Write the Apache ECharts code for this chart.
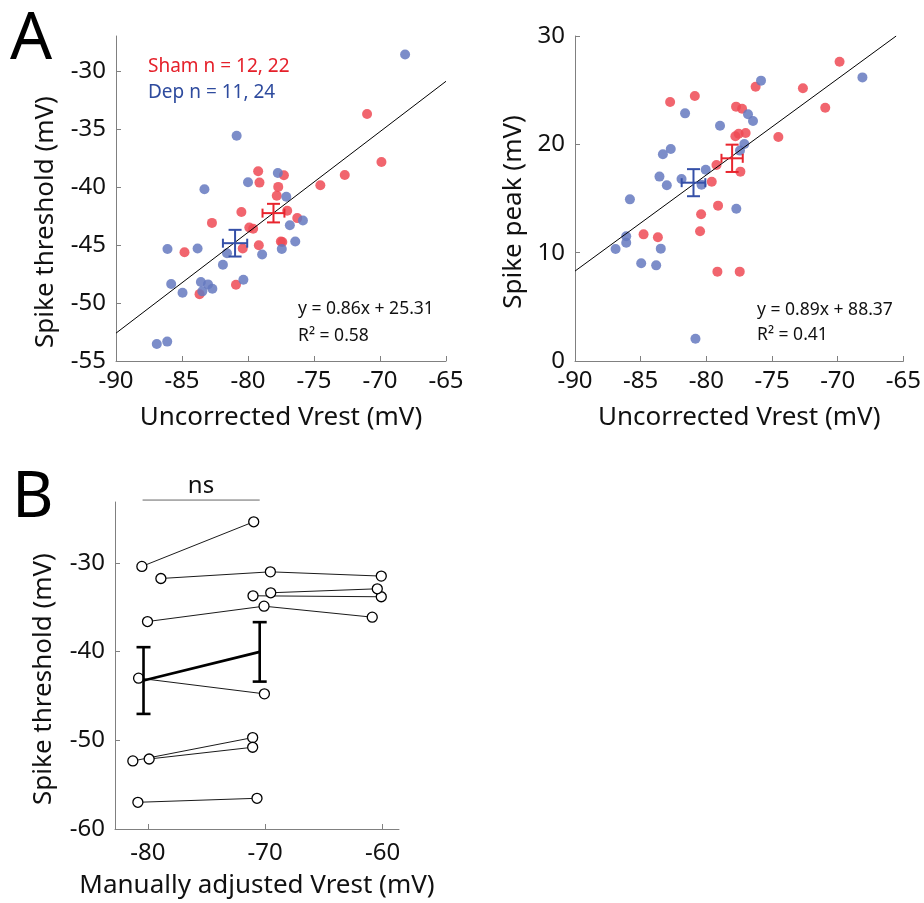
<!DOCTYPE html>
<html>
<head>
<meta charset="utf-8">
<title>Spike threshold and Vrest</title>
<script src="https://cdn.jsdelivr.net/npm/echarts@6/dist/echarts.min.js"></script>
<style>body{margin:0;background:#fff;}</style>
</head>
<body>
<div id="main" style="width:924px;height:903px;"></div>
<script>
// ---- panel A, left: spike threshold vs uncorrected Vrest ----
var shamThr = [
    [-70.98, -33.72], [-69.89, -37.85], [-72.67, -38.97], [-74.52, -39.86],
    [-77.28, -39.0], [-79.23, -38.65], [-79.13, -39.63], [-77.71, -40.0],
    [-77.82, -40.76], [-77.03, -42.06], [-76.27, -42.69], [-82.73, -43.1],
    [-80.5, -42.17], [-79.61, -43.6], [-79.18, -45.03], [-80.4, -45.3],
    [-77.51, -44.7], [-77.4, -44.75], [-84.81, -45.63], [-80.91, -48.43],
    [-83.67, -49.24], [-79.9, -43.5]
];
var depThr = [
    [-68.1, -28.6], [-80.86, -35.6], [-83.3, -40.2], [-80.0, -39.6],
    [-77.74, -38.8], [-77.1, -40.85], [-76.83, -43.3], [-75.84, -42.9],
    [-76.42, -44.7], [-77.44, -45.35], [-78.93, -45.83], [-81.59, -45.72],
    [-81.9, -46.7], [-80.35, -48.0], [-83.82, -45.3], [-86.1, -45.35],
    [-85.82, -48.37], [-84.96, -49.12], [-83.57, -48.2], [-83.03, -48.4],
    [-82.7, -48.78], [-83.46, -49.0], [-86.91, -53.54], [-86.12, -53.33]
];
// mean x, mean y, sem x, sem y
var shamThrMean = [-78.07, -42.26, 0.83, 0.8];
var depThrMean = [-80.98, -44.85, 0.92, 1.15];
var fitThr = [[-90, -52.6], [-65, -30.9]];

// ---- panel A, right: spike peak vs uncorrected Vrest ----
var shamPeak = [
    [-69.86, 27.63], [-72.65, 25.17], [-70.95, 23.38], [-76.25, 25.32],
    [-74.52, 20.68], [-82.76, 23.91], [-80.88, 24.46], [-77.74, 23.48],
    [-77.28, 23.29], [-77.79, 20.74], [-77.54, 20.98], [-77.01, 21.05],
    [-79.23, 18.09], [-77.41, 17.48], [-79.59, 16.55], [-79.11, 14.34],
    [-80.4, 13.54], [-80.48, 11.97], [-84.78, 11.69], [-83.69, 11.42],
    [-79.16, 8.25], [-77.46, 8.25]
];
var depPeak = [
    [-68.12, 26.18], [-75.84, 25.88], [-81.62, 22.86], [-78.96, 21.72],
    [-76.83, 22.77], [-76.45, 22.15], [-77.11, 20.03], [-77.44, 19.42],
    [-82.71, 19.57], [-83.31, 19.08], [-83.57, 17.02], [-83.01, 16.22],
    [-81.89, 16.8], [-80.05, 17.66], [-80.37, 16.28], [-85.82, 14.92],
    [-86.1, 11.51], [-86.1, 10.92], [-86.91, 10.34], [-83.47, 10.37],
    [-84.96, 9.02], [-83.82, 8.83], [-77.72, 14.06], [-80.83, 2.06]
];
var shamPeakMean = [-78.04, 18.71, 0.81, 1.26];
var depPeakMean = [-80.98, 16.46, 0.9, 1.25];
var fitPeak = [[-90, 8.3], [-65.55, 30]];

// ---- panel B: manually adjusted Vrest, paired cells ----
var pairsB = [
    [[-80.51, -30.41], [-70.98, -25.38]],
    [[-78.89, -31.77], [-69.56, -31.02], [-60.11, -31.5]],
    [[-71.04, -33.72], [-60.11, -33.83]],
    [[-69.53, -33.38], [-60.45, -32.93]],
    [[-80.03, -36.62], [-70.1, -34.89], [-60.88, -36.13]],
    [[-80.79, -43.0], [-70.07, -44.77]],
    [[-81.28, -52.33], [-71.07, -49.7]],
    [[-79.89, -52.11], [-71.07, -50.79]],
    [[-80.85, -56.99], [-70.7, -56.54]]
];
var meanB = [[-80.37, -43.27], [-70.47, -40.04]];
var semB = [3.76, 3.35];
var nsBar = [[-80.45, -22.93], [-70.47, -22.93]];

var thrTicks = [-55, -50, -45, -40, -35, -30];
var vrestTicks = [-90, -85, -80, -75, -70, -65];
var peakTicks = [0, 10, 20, 30];
var bxTicks = [-80, -70, -60];
var byTicks = [-60, -50, -40, -30];

var RED = '#ee4a55', BLUE = '#6579c0';
var RED_BAR = '#e8252e', BLUE_BAR = '#3550a8';
var FONT = 'Noto Sans';

function errBars(color, capV, capH, width) {
    return function (params, api) {
        var x = api.value(0), y = api.value(1), ex = api.value(2), ey = api.value(3);
        var st = { stroke: color, lineWidth: width, fill: null };
        var kids = [];
        function seg(a, b) {
            kids.push({ type: 'line', shape: { x1: a[0], y1: a[1], x2: b[0], y2: b[1] }, style: st });
        }
        if (ex > 0) {
            var l = api.coord([x - ex, y]), r = api.coord([x + ex, y]);
            seg(l, r);
            seg([l[0], l[1] - capH / 2], [l[0], l[1] + capH / 2]);
            seg([r[0], r[1] - capH / 2], [r[0], r[1] + capH / 2]);
        }
        if (ey > 0) {
            var t = api.coord([x, y + ey]), b = api.coord([x, y - ey]);
            seg(t, b);
            seg([t[0] - capV / 2, t[1]], [t[0] + capV / 2, t[1]]);
            seg([b[0] - capV / 2, b[1]], [b[0] + capV / 2, b[1]]);
        }
        return { type: 'group', children: kids };
    };
}

function xAx(idx, min, max, ticks, name, margin) {
    return {
        type: 'value', gridIndex: idx, min: min, max: max,
        name: name, nameLocation: 'middle', nameGap: 44,
        nameTextStyle: { color: '#111', fontSize: 26, fontFamily: FONT },
        axisLine: { show: true, onZero: false, lineStyle: { color: '#808080', width: 1 } },
        axisTick: { show: true, inside: true, length: 5, customValues: ticks, lineStyle: { color: '#808080' } },
        axisLabel: { customValues: ticks, color: '#111', fontSize: 24, fontFamily: FONT, margin: margin },
        splitLine: { show: false }
    };
}
// y titles are drawn as graphic text so they sit where the original has them
function yAx(idx, min, max, ticks) {
    return {
        type: 'value', gridIndex: idx, min: min, max: max,
        axisLine: { show: true, onZero: false, lineStyle: { color: '#808080', width: 1 } },
        axisTick: { show: true, inside: true, length: 5, customValues: ticks, lineStyle: { color: '#808080' } },
        axisLabel: { customValues: ticks, color: '#111', fontSize: 24, fontFamily: FONT, margin: 10 },
        splitLine: { show: false }
    };
}

var series = [];
function scatter(data, color, idx) {
    series.push({
        type: 'scatter', xAxisIndex: idx, yAxisIndex: idx, data: data,
        symbolSize: 10, itemStyle: { color: color, opacity: 0.85 }, z: 2
    });
}
function fit(data, idx) {
    series.push({
        type: 'line', xAxisIndex: idx, yAxisIndex: idx, data: data, symbol: 'none',
        lineStyle: { color: '#000', width: 1 }, z: 3
    });
}
function means(data, color, idx) {
    series.push({
        type: 'custom', xAxisIndex: idx, yAxisIndex: idx, data: [data],
        renderItem: errBars(color, 13, 9, 2), z: 4
    });
}

scatter(shamThr, RED, 0);
scatter(depThr, BLUE, 0);
fit(fitThr, 0);
means(shamThrMean, RED_BAR, 0);
means(depThrMean, BLUE_BAR, 0);

scatter(shamPeak, RED, 1);
scatter(depPeak, BLUE, 1);
fit(fitPeak, 1);
means(shamPeakMean, RED_BAR, 1);
means(depPeakMean, BLUE_BAR, 1);

pairsB.forEach(function (p) {
    series.push({
        type: 'line', xAxisIndex: 2, yAxisIndex: 2, data: p,
        symbol: 'circle', symbolSize: 10,
        itemStyle: { color: '#fff', borderColor: '#000', borderWidth: 1.3 },
        lineStyle: { color: '#000', width: 0.9 }, z: 2
    });
});
series.push({
    type: 'line', xAxisIndex: 2, yAxisIndex: 2, data: meanB, symbol: 'none',
    lineStyle: { color: '#000', width: 2.6 }, z: 4
});
series.push({
    type: 'custom', xAxisIndex: 2, yAxisIndex: 2,
    data: meanB.map(function (d, i) { return [d[0], d[1], 0, semB[i]]; }),
    renderItem: errBars('#000', 14, 0, 2.6), z: 4
});
series.push({
    type: 'line', xAxisIndex: 2, yAxisIndex: 2, data: nsBar, symbol: 'none', clip: false,
    lineStyle: { color: '#666', width: 1 }, z: 3
});

function txt(x, y, s, size, color, align, rot) {
    return {
        type: 'text', x: x, y: y, rotation: rot || 0,
        style: { text: s, fontSize: size, fontFamily: FONT, fill: color,
                 textAlign: align || 'left', textVerticalAlign: 'middle' }
    };
}

var myChart = echarts.init(document.getElementById('main'), null, { renderer: 'canvas' });
var option = {
    animation: false,
    backgroundColor: '#fff',
    grid: [
        { left: 116, top: 36, width: 330, height: 325 },
        { left: 575, top: 36, width: 329, height: 325 },
        { left: 115, top: 502, width: 284, height: 327 }
    ],
    xAxis: [
        xAx(0, -90, -65, vrestTicks, 'Uncorrected Vrest (mV)', 8),
        xAx(1, -90, -65, vrestTicks, 'Uncorrected Vrest (mV)', 8),
        xAx(2, -82.8, -58.6, bxTicks, 'Manually adjusted Vrest (mV)', 12)
    ],
    yAxis: [
        yAx(0, -55, -27, thrTicks),
        yAx(1, 0, 30, peakTicks),
        yAx(2, -60, -23.15, byTicks)
    ],
    graphic: [
        txt(10, 40, 'A', 66, '#000'),
        txt(12, 499, 'B', 64, '#000'),
        txt(46, 222, 'Spike threshold (mV)', 26, '#111', 'center', Math.PI / 2),
        txt(514, 212, 'Spike peak (mV)', 26, '#111', 'center', Math.PI / 2),
        txt(44, 679, 'Spike threshold (mV)', 26, '#111', 'center', Math.PI / 2),
        txt(148, 67, 'Sham n = 12, 22', 19, '#e5202a'),
        txt(148, 93, 'Dep n = 11, 24', 19, '#2e4b9e'),
        txt(298, 309, 'y = 0.86x + 25.31', 17.5, '#111'),
        txt(298, 336, 'R² = 0.58', 17.5, '#111'),
        txt(757, 310, 'y = 0.89x + 88.37', 17.5, '#111'),
        txt(757, 335, 'R² = 0.41', 17.5, '#111'),
        txt(201, 486, 'ns', 24, '#111', 'center')
    ],
    series: series
};
myChart.setOption(option);
</script>
</body>
</html>
